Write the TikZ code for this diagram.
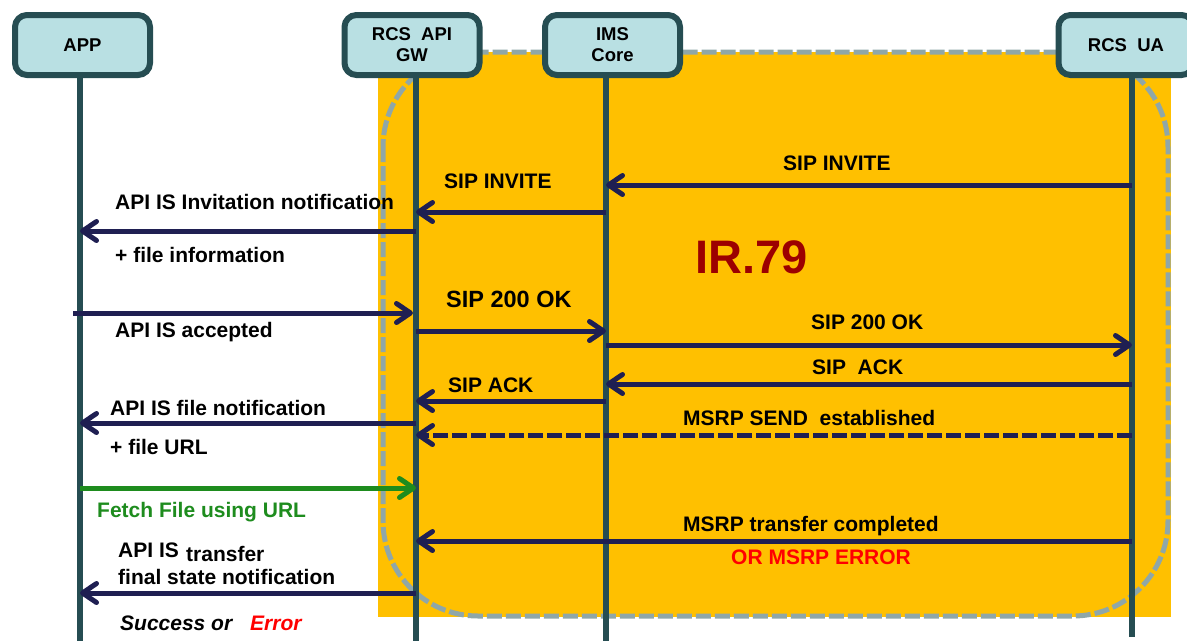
\documentclass[tikz,border=0pt]{standalone}
\usepackage{fontspec}
\setmainfont{Liberation Sans}
\usetikzlibrary{arrows.meta}
\definecolor{orng}{HTML}{FFC000}
\definecolor{brd}{HTML}{8FA7A8}
\definecolor{lifec}{HTML}{264D52}
\definecolor{nfill}{HTML}{B9E0E3}
\definecolor{navy}{HTML}{1F1F52}
\definecolor{grn}{HTML}{1E8C1E}
\definecolor{ired}{HTML}{9C0000}
\definecolor{rred}{HTML}{FF0000}
\begin{document}
\begin{tikzpicture}[x=1pt,y=-1pt,
  actor/.style={draw=lifec, fill=nfill, line width=6pt, rounded corners=12pt,
    minimum width=135pt, minimum height=60pt, align=center, inner sep=0pt,
    font=\fontsize{18.5}{21}\selectfont\bfseries},
  lifeln/.style={draw=lifec, line width=5.5pt},
  msg/.style={draw=navy, line width=5pt,
    -{Straight Barb[length=14pt,width=19pt,line join=round,line cap=round]}},
  lbl/.style={font=\fontsize{21}{25}\selectfont\bfseries, inner sep=0pt, anchor=base west},
]
\useasboundingbox (0,0) rectangle (1187,641);
% background zone
\fill[orng] (378,52) rectangle (1171,617);
\draw[brd, line width=5pt, dash pattern=on 15pt off 4pt, rounded corners=95pt]
  (383,52) rectangle (1168,616);
% actors
\node[actor] (app) at (82.5,45) {APP};
\node[actor] (gw) at (412,45) {RCS~~API\\GW};
\node[actor] (ims) at (612.5,45) {IMS\\Core};
\node[actor] (ua) at (1126,45) {RCS~~UA};
% lifeline ends
\coordinate (appE) at (80,641);
\coordinate (gwE) at (416,641);
\coordinate (imsE) at (606,641);
\coordinate (uaE) at (1132,637);
\draw[lifeln] (app.south -| appE) -- (appE);
\draw[lifeln] (gw.south -| gwE) -- (gwE);
\draw[lifeln] (ims.south -| imsE) -- (imsE);
\draw[lifeln] (ua.south -| uaE) -- (uaE);
% messages
\draw[msg] (uaE |- 0,185) -- (imsE |- 0,185);
\draw[msg] (imsE |- 0,212) -- (gwE |- 0,212);
\draw[msg] (gwE |- 0,231) -- (appE |- 0,231);
\draw[msg, shorten <=-7pt, shorten >=3pt] (appE |- 0,313) -- (gwE |- 0,313);
\draw[msg] (gwE |- 0,331) -- (imsE |- 0,331);
\draw[msg] (imsE |- 0,345) -- (uaE |- 0,345);
\draw[msg] (uaE |- 0,384) -- (imsE |- 0,384);
\draw[msg] (imsE |- 0,401) -- (gwE |- 0,401);
\draw[msg] (gwE |- 0,423) -- (appE |- 0,423);
\draw[msg, dash pattern=on 15pt off 4pt] (uaE |- 0,435) -- (gwE |- 0,435);
\draw[msg, draw=grn] (appE |- 0,488) -- (gwE |- 0,488);
\draw[msg] (uaE |- 0,541) -- (gwE |- 0,541);
\draw[msg] (gwE |- 0,593) -- (appE |- 0,593);
% labels
\node[lbl] (t1) at (783,170.5) {SIP INVITE};
\node[lbl] (t2) at (444,188.5) {SIP INVITE};
\node[lbl] (t3) at (115,209.5) {API IS Invitation notification};
\node[lbl] (t4) at (115,262.5) {+ file information};
\node[lbl, font=\fontsize{23.5}{28}\selectfont\bfseries] (t5) at (446,307.5) {SIP 200 OK};
\node[lbl] (t6) at (115,337.5) {API IS accepted};
\node[lbl] (t7) at (811,329.5) {SIP 200 OK};
\node[lbl] (t8) at (812,374.5) {SIP~~ACK};
\node[lbl] (t9) at (448,392.5) {SIP ACK};
\node[lbl] (t10) at (110,415.5) {API IS file notification};
\node[lbl] (t11) at (110,454.5) {+ file URL};
\node[lbl] (t12) at (683,425.5) {MSRP SEND~~established};
\node[lbl, text=grn] (t13) at (97,517.5) {Fetch File using URL};
\node[lbl] (t14) at (683,531.5) {MSRP transfer completed};
\node[lbl, text=rred] (t15) at (731,564.5) {OR MSRP ERROR};
\node[lbl] (t16) at (118,557) {API IS};
\node[lbl] (t16b) at (186,561) {transfer};
\node[lbl] (t17) at (118,584.5) {final state notification};
\node[lbl, font=\fontsize{21}{25}\selectfont\bfseries\itshape] (t18) at (120,630) {Success or};
\node[lbl, text=rred, font=\fontsize{21}{25}\selectfont\bfseries\itshape] (t19) at (250,630) {Error};
\node[lbl, text=ired, font=\fontsize{47}{52}\selectfont\bfseries] (ir) at (695,273) {IR.79};
\end{tikzpicture}
\end{document}
